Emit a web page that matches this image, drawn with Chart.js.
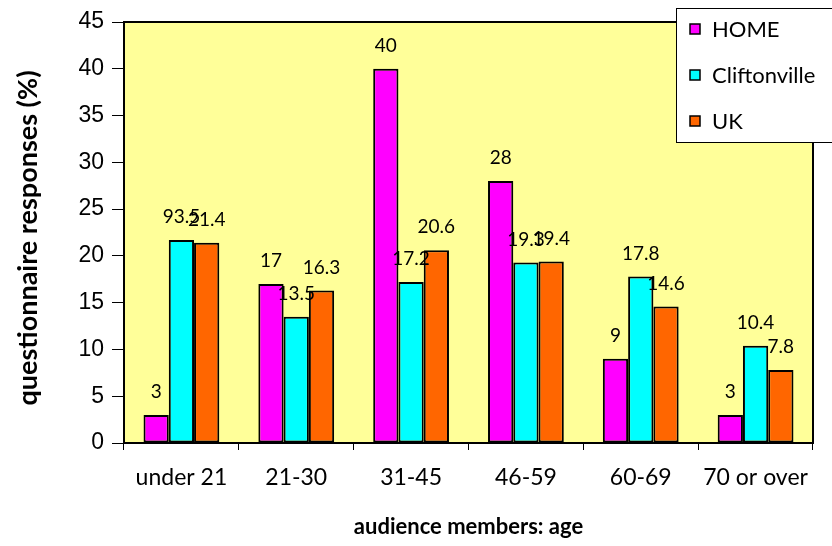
<!DOCTYPE html>
<html>
<head>
<meta charset="utf-8">
<script src="https://cdn.jsdelivr.net/npm/chart.js@4/dist/chart.umd.min.js"></script>
<style>
  html, body { margin: 0; padding: 0; background: #ffffff; }
  #wrap { width: 832px; height: 546px; position: relative; }
</style>
</head>
<body>
<div id="wrap"><canvas id="c" width="832" height="546"></canvas></div>
<script>
// Age groups of audience members
const categories = ['under 21', '21-30', '31-45', '46-59', '60-69', '70 or over'];

// Share of questionnaire responses (%) per age group
const homeValues = [3, 17, 40, 28, 9, 3];
const cliftonvilleValues = [21.7, 13.5, 17.2, 19.3, 17.8, 10.4];
const ukValues = [21.4, 16.3, 20.6, 19.4, 14.6, 7.8];

// Value labels printed above the bars
const homeLabels = ['3', '17', '40', '28', '9', '3'];
const cliftonvilleLabels = ['93.5', '13.5', '17.2', '19.3', '17.8', '10.4'];
const ukLabels = ['21.4', '16.3', '20.6', '19.4', '14.6', '7.8'];

const seriesNames = ['HOME', 'Cliftonville', 'UK'];
const seriesColors = ['#FF00FF', '#00FFFF', '#FF6600'];

const yTicks = { min: 0, max: 45, step: 5 };

const yTitle = 'questionnaire responses (%)';

const textFamily = 'Lato, "Open Sans", sans-serif';
const labelFont = '19px ' + textFamily;

// Yellow plot background and black frame
const plotFrame = {
  id: 'plotFrame',
  beforeDatasetsDraw(chart) {
    const { ctx, chartArea: a } = chart;
    ctx.save();
    ctx.fillStyle = '#FFFF99';
    ctx.fillRect(a.left, a.top, a.right - a.left, a.bottom - a.top);
    ctx.restore();
  },
  afterDatasetsDraw(chart) {
    const { ctx, chartArea: a } = chart;
    ctx.save();
    ctx.strokeStyle = '#000000';
    ctx.lineWidth = 2;
    ctx.strokeRect(a.left, a.top, a.right - a.left, a.bottom - a.top);
    ctx.restore();
  }
};

// Text above each bar
const barValueLabels = {
  id: 'barValueLabels',
  afterDatasetsDraw(chart) {
    const { ctx } = chart;
    ctx.save();
    ctx.font = labelFont;
    ctx.fillStyle = '#000000';
    ctx.textAlign = 'center';
    ctx.textBaseline = 'middle';
    chart.data.datasets.forEach((ds, i) => {
      const meta = chart.getDatasetMeta(i);
      meta.data.forEach((bar, j) => {
        ctx.fillText(ds.valueLabels[j], bar.x, bar.y - 23);
      });
    });
    ctx.restore();
  }
};

// Rotated title of the value axis, sized to a fixed run length
const valueAxisTitle = {
  id: 'valueAxisTitle',
  afterDraw(chart) {
    const { ctx } = chart;
    ctx.save();
    ctx.font = 'bold 100px ' + textFamily;
    const w100 = ctx.measureText(yTitle).width;
    const size = Math.round(100 * 341 / w100);
    ctx.translate(28, 238);
    ctx.rotate(-Math.PI / 2);
    ctx.font = 'bold ' + size + 'px ' + textFamily;
    ctx.fillStyle = '#000000';
    ctx.textAlign = 'center';
    ctx.textBaseline = 'middle';
    ctx.fillText(yTitle, 0, 0);
    ctx.restore();
  }
};

// Boxed legend in the upper right corner
const boxLegend = {
  id: 'boxLegend',
  afterDraw(chart) {
    const { ctx } = chart;
    const left = 676, top = 8, width = 158, height = 134;
    ctx.save();
    ctx.fillStyle = '#ffffff';
    ctx.fillRect(left, top, width, height);
    ctx.strokeStyle = '#000000';
    ctx.lineWidth = 1;
    ctx.strokeRect(left + 0.5, top + 0.5, width, height);
    ctx.font = '22px ' + textFamily;
    ctx.textBaseline = 'middle';
    ctx.textAlign = 'left';
    chart.data.datasets.forEach((ds, i) => {
      const cy = 29 + i * 46;
      ctx.fillStyle = ds.backgroundColor;
      ctx.fillRect(690, cy - 5, 10, 10);
      ctx.strokeStyle = '#000000';
      ctx.lineWidth = 1.5;
      ctx.strokeRect(690, cy - 5, 10, 10);
      ctx.fillStyle = '#000000';
      ctx.fillText(ds.label, 712, cy + 1);
    });
    ctx.restore();
  }
};

const valueSets = [homeValues, cliftonvilleValues, ukValues];
const labelSets = [homeLabels, cliftonvilleLabels, ukLabels];

new Chart(document.getElementById('c'), {
  type: 'bar',
  data: {
    labels: categories,
    datasets: seriesNames.map((name, i) => ({
      label: name,
      data: valueSets[i],
      valueLabels: labelSets[i],
      backgroundColor: seriesColors[i],
      borderColor: '#000000',
      borderWidth: 2,
      borderSkipped: false,
      categoryPercentage: 0.66,
      barPercentage: 1.0
    }))
  },
  options: {
    responsive: false,
    animation: false,
    layout: { padding: { top: 22, right: 19, left: 0, bottom: 0 } },
    plugins: {
      legend: { display: false },
      tooltip: { enabled: false }
    },
    scales: {
      x: {
        offset: true,
        grid: {
          offset: true,
          drawOnChartArea: false,
          drawTicks: true,
          tickLength: 7,
          color: '#000000',
          lineWidth: 1
        },
        border: { display: true, color: '#000000', width: 2 },
        ticks: {
          color: '#000000',
          font: { family: textFamily, size: 23 },
          padding: 14,
          maxRotation: 0
        },
        title: {
          display: true,
          text: 'audience members: age',
          color: '#000000',
          font: { family: textFamily, size: 22, weight: 'bold', lineHeight: 1.73 },
          padding: { top: 4, bottom: 0 }
        },
        afterFit(scale) { scale.height = 103; }
      },
      y: {
        min: yTicks.min,
        max: yTicks.max,
        ticks: {
          stepSize: yTicks.step,
          color: '#000000',
          font: { family: '"Liberation Sans", Arial, sans-serif', size: 23 },
          padding: 8
        },
        grid: {
          drawOnChartArea: false,
          drawTicks: true,
          tickLength: 12,
          color: '#000000'
        },
        border: { display: true, color: '#000000', width: 2 },
        title: { display: false },
        afterFit(scale) { scale.width = 124; }
      }
    }
  },
  plugins: [plotFrame, barValueLabels, valueAxisTitle, boxLegend]
});
</script>
</body>
</html>
